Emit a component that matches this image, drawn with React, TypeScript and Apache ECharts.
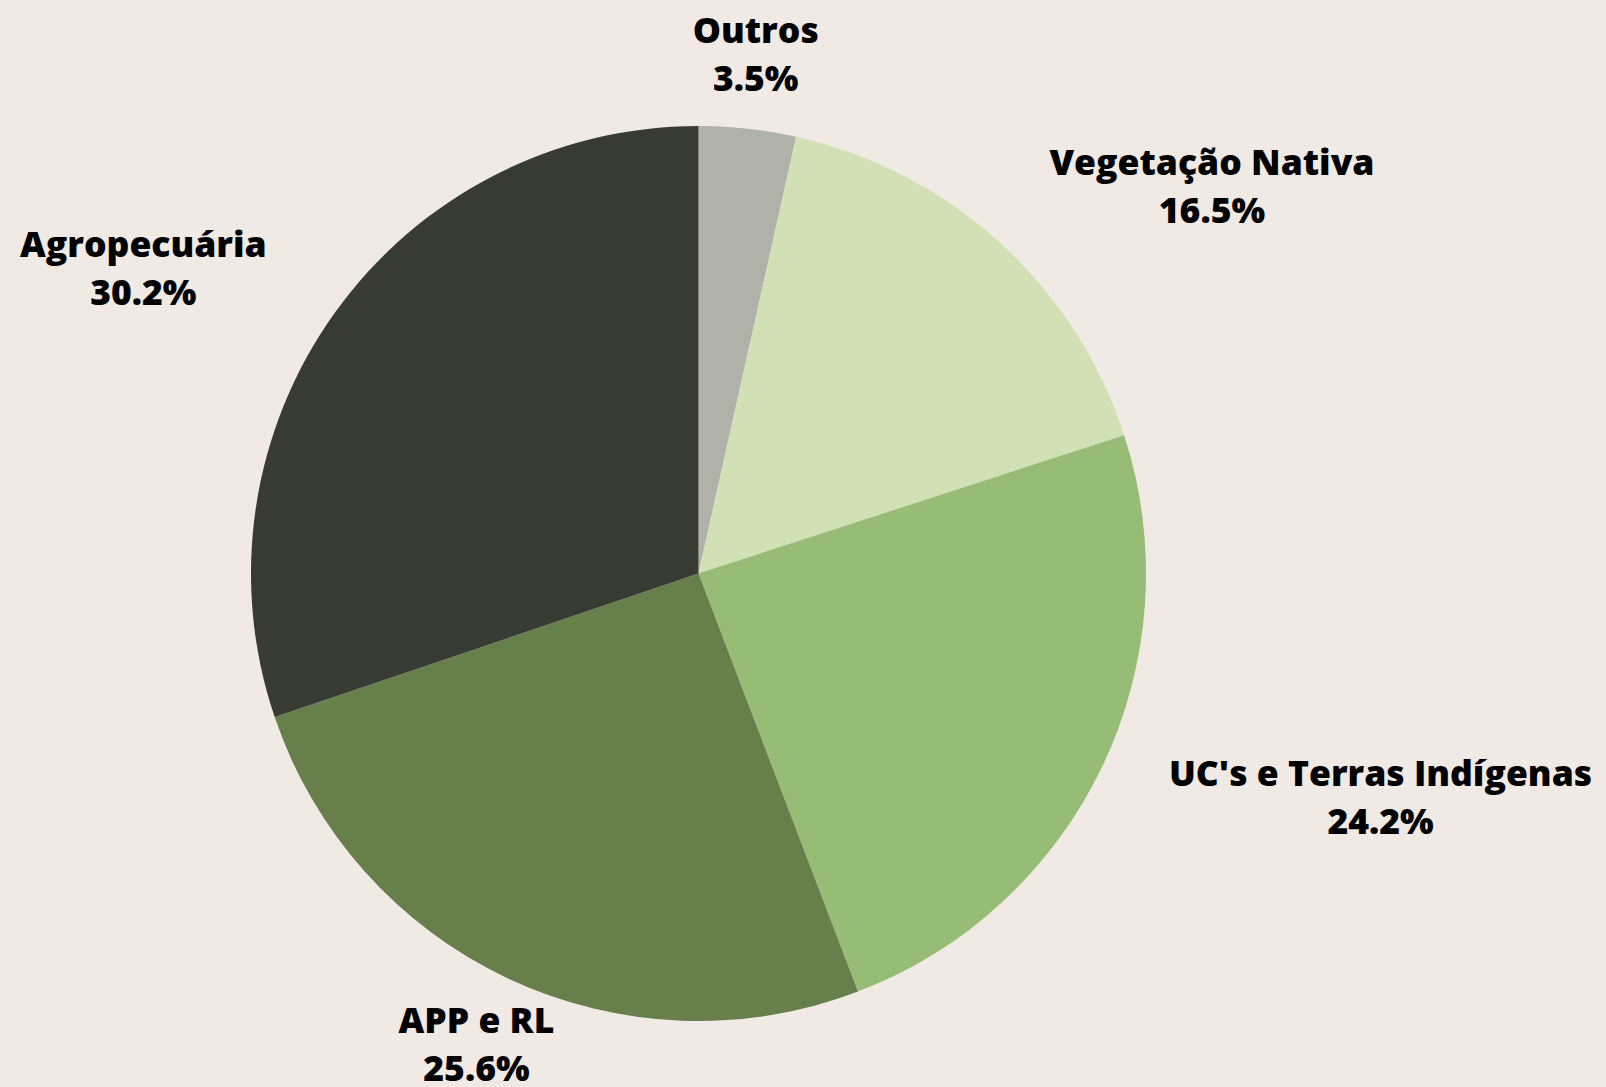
import React, { useEffect, useRef } from "react";
import * as echarts from "echarts";

const categories = ["Outros", "Vegetação Nativa", "UC's e Terras Indígenas", "APP e RL", "Agropecuária"];
const values = [3.5, 16.5, 24.2, 25.6, 30.2];
const colors = ["#b0b2a9", "#d1e0b5", "#97bc76", "#677f4a", "#383a34"];

export default function App() {
  const ref = useRef<HTMLDivElement>(null);
  useEffect(() => {
    document.body.style.margin = "0";
    const chart = echarts.init(ref.current!, null, { renderer: "svg" });
    const R = 447.5;
    chart.setOption({
      animation: false,
      backgroundColor: "#f0e9e4",
      series: [
        {
          type: "pie",
          center: [698.5, 573.5],
          radius: [0, R],
          startAngle: 90,
          clockwise: true,
          avoidLabelOverlap: false,
          data: categories.map((name, i) => ({ name, value: values[i], itemStyle: { color: colors[i] } })),
          itemStyle: { borderWidth: 0 },
          label: {
            show: true,
            position: "outside",
            formatter: "{b}\n{c}%",
            fontFamily: "Open Sans",
            fontWeight: 800,
            fontSize: 35.5,
            lineHeight: 48,
            color: "#000",
          },
          labelLine: { show: true, length: 74, length2: 0, lineStyle: { opacity: 0, width: 0 } },
          labelLayout: (p: any) => {
            const pts = p.labelLinePoints;
            if (!pts) return {};
            const [px, py] = pts[1];
            const dx = px - 698.5;
            const dist = Math.hypot(px - 698.5, py - 573.5);
            const s = dx / dist;
            const w = p.labelRect.width;
            let x = px;
            if (s > 0.5) x = px + w / 2;
            else if (s < -0.5) x = px - w / 2 - 8;
            return { x, y: py - 2.5, align: "center", verticalAlign: "middle" };
          },
        },
      ],
    });
    return () => chart.dispose();
  }, []);
  return <div ref={ref} style={{ position: "absolute", left: 0, top: 0, width: 1606, height: 1087 }} />;
}
